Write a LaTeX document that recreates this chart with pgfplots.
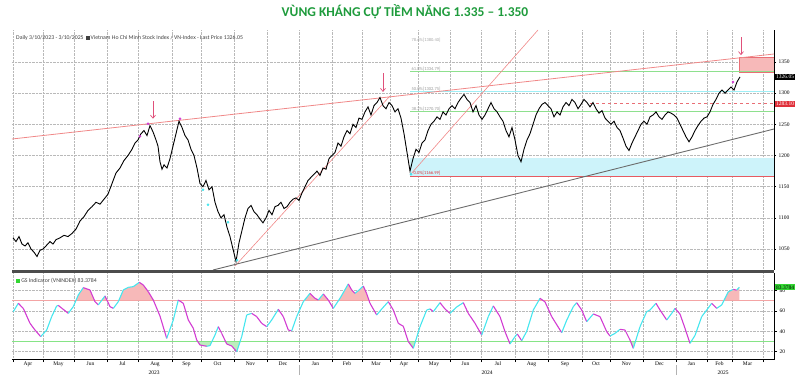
\documentclass[border=0pt]{standalone}
\usepackage{fontspec}
\setmainfont{Liberation Serif}
\newfontfamily\titlefont{Carlito}
\newfontfamily\calfont{Carlito}
\usepackage{pgfplots}
\usepackage{pgfplotstable}
\pgfplotsset{compat=1.18}
\usetikzlibrary{arrows.meta}
\definecolor{ttl}{HTML}{1E9B3C}
\definecolor{gscyan}{HTML}{45E6EE}
\definecolor{gsmag}{HTML}{D23CD2}
\definecolor{trend}{HTML}{F08888}
\definecolor{fibg}{HTML}{8EE08E}
\definecolor{fibc}{HTML}{9EEFF6}
\definecolor{band}{HTML}{CDF3FA}
\definecolor{arrowc}{HTML}{E0507A}
\definecolor{redfill}{HTML}{F7B9B9}
\definecolor{greenfill}{HTML}{BDEDBD}
\definecolor{lvl70}{HTML}{F4A4A4}
\definecolor{lvl30}{HTML}{86E486}
\definecolor{boxgreen}{HTML}{33D633}
\definecolor{boxred}{HTML}{E0303A}

\pgfplotstableread{
x y
13 1068
16 1062
19 1070
22 1058
25 1055
28 1060
31 1050
34 1045
37 1038
40 1048
43 1050
46 1055
50 1062
53 1058
56 1065
60 1068
64 1072
68 1070
72 1075
76 1082
80 1095
84 1102
88 1112
92 1118
96 1125
100 1122
104 1130
108 1138
112 1155
116 1172
120 1180
124 1192
128 1200
132 1210
135 1220
138 1225
141 1235
144 1240
147 1232
150 1248
153 1238
156 1225
158 1215
160 1190
162 1178
164 1185
167 1180
170 1195
173 1215
176 1235
179 1255
182 1245
185 1232
188 1225
191 1210
194 1200
197 1180
200 1155
203 1150
206 1160
209 1145
212 1150
215 1125
218 1110
221 1100
224 1105
227 1085
230 1070
233 1050
236 1030
239 1060
242 1080
245 1100
248 1115
251 1120
254 1110
257 1105
260 1098
263 1092
266 1100
269 1112
272 1105
275 1118
278 1120
281 1125
284 1115
287 1118
290 1125
293 1130
296 1132
299 1128
302 1140
305 1150
308 1160
311 1165
314 1170
317 1175
320 1168
323 1180
326 1178
329 1195
332 1200
335 1205
338 1220
341 1215
344 1230
347 1240
350 1235
353 1250
356 1245
359 1260
362 1258
365 1270
368 1278
371 1265
374 1280
377 1285
380 1293
383 1280
386 1275
389 1285
392 1280
395 1270
398 1275
401 1260
404 1235
407 1205
410 1175
413 1195
416 1210
419 1205
422 1220
425 1225
428 1240
431 1250
434 1255
437 1262
440 1258
443 1270
446 1265
449 1275
452 1280
455 1275
458 1285
461 1292
464 1298
467 1290
470 1285
473 1270
476 1280
479 1265
482 1258
485 1265
488 1275
491 1285
494 1275
497 1270
500 1262
503 1255
506 1240
509 1230
512 1245
515 1225
518 1200
521 1190
524 1210
527 1225
530 1235
533 1250
536 1265
539 1275
542 1282
545 1285
548 1280
551 1275
554 1262
557 1270
560 1265
563 1278
566 1285
569 1280
572 1290
575 1285
578 1275
581 1282
584 1290
587 1285
590 1278
593 1285
596 1275
599 1268
602 1272
605 1260
608 1255
611 1250
614 1255
617 1245
620 1240
623 1228
626 1215
629 1208
632 1220
635 1230
638 1240
641 1250
644 1255
647 1250
650 1262
653 1265
656 1270
659 1262
662 1258
665 1265
668 1270
671 1268
674 1265
677 1260
680 1250
683 1240
686 1230
689 1222
692 1230
695 1240
698 1248
701 1255
704 1260
707 1262
710 1270
713 1282
716 1290
719 1300
722 1305
725 1300
728 1305
731 1310
734 1305
737 1318
740 1326.05
}\price

\pgfplotstableread{
x y c
13.3 59.4 1
18.3 67.6 1
18.3 67.6 0
23.3 62.6 0
30 47.9 0
35 41.3 0
40.7 34.8 0
40.7 34.8 1
46.7 41.3 1
51.7 54.5 1
56.7 65 1
58.3 65.5 1
58.3 65.5 0
68.3 57.7 0
68.3 57.7 1
73.3 64.3 1
78.3 75.8 1
83.3 83 1
83.3 83 0
90 80.7 0
95 69.2 0
98.3 66 0
98.3 66 1
105 74.8 1
105 74.8 0
110 64.3 0
113.3 62.6 0
113.3 62.6 1
118.3 69.2 1
123.3 80.7 1
128.3 83.3 1
133.3 84 1
139.3 88.2 1
139.3 88.2 0
143.3 85.6 0
148.3 79 0
153.3 70.8 0
160 55 0
166.7 33.1 0
166.7 33.1 1
173.3 51.2 1
178.3 70.8 1
178.3 70.8 0
183.3 67.6 0
188.3 51.2 0
193.3 43 0
196.7 31.5 0
200 26.6 0
206.7 25.3 0
206.7 25.3 1
210 26 1
215 36.4 1
218.3 44.6 1
218.3 44.6 0
221.7 38 0
226.7 27.6 0
231.7 25.6 0
236.7 20 0
236.7 20 1
241.7 34.8 1
246.7 56.1 1
251.7 57.7 1
251.7 57.7 0
256.7 54.5 0
261.7 47.9 0
266.7 44.6 0
266.7 44.6 1
271.7 51.2 1
278.3 61.7 1
278.3 61.7 0
283.3 54.5 0
288.3 41.3 0
291.7 40.5 0
291.7 40.5 1
296.7 54.5 1
303.3 69.2 1
310 77.4 1
310 77.4 0
315 72.5 0
318.3 70.8 0
318.3 70.8 1
323.3 76.8 1
323.3 76.8 0
328.3 70.8 0
333.3 62.6 0
333.3 62.6 1
340 72.5 1
348.3 86.6 1
348.3 86.6 0
351.7 80.7 0
355 77.4 0
355 77.4 1
358.3 80 1
363.3 84.6 1
363.3 84.6 0
366.7 77 0
370 67.6 0
376.7 56.1 0
376.7 56.1 1
381.7 62 1
388.3 69.2 1
388.3 69.2 0
393.3 61 0
398.3 47.9 0
403.3 45 0
408.3 29.9 0
413.3 23.3 0
413.3 23.3 1
420 44.6 1
426.7 61 1
430 62 1
430 62 0
433.3 59.4 0
433.3 59.4 1
440 68.2 1
440 68.2 0
445 62 0
450 57.7 0
450 57.7 1
456.7 64 1
463.3 68.2 1
463.3 68.2 0
468.3 57.7 0
475 47.9 0
481.7 36.4 0
481.7 36.4 1
488.3 54.5 1
493.3 65 1
493.3 65 0
500 54.5 0
505 39.7 0
510 27.6 0
510 27.6 1
515 34.8 1
517.3 37.4 1
517.3 37.4 0
521.7 30.8 0
521.7 30.8 1
526.7 40 1
533.3 61 1
540 72.5 1
540 72.5 0
545 69 0
551.7 54.5 0
561.7 38.7 0
561.7 38.7 1
566.7 51 1
573.3 64.3 1
576.7 68.2 1
576.7 68.2 0
581.7 61 0
586.7 49.5 0
586.7 49.5 1
593.3 57.1 1
593.3 57.1 0
600 54.5 0
606.7 39.7 0
610 35.4 0
610 35.4 1
615 38 1
620 42 1
620 42 0
625 41.3 0
630 31.5 0
633.3 23.3 0
633.3 23.3 1
640 44.6 1
646.7 59.4 1
650 61 1
656 67.6 1
656 67.6 0
660 61 0
666.7 51.2 0
666.7 51.2 1
671.7 57.7 1
675 62.6 1
675 62.6 0
680 57 0
685 43 0
690 28.2 0
690 28.2 1
695 36 1
701.7 54.5 1
706.7 61 1
711.7 67.6 1
711.7 67.6 0
716.7 62.6 0
716.7 62.6 1
721.7 66 1
728.3 79 1
733.3 81.3 1
733.3 81.3 0
736.7 80.5 0
736.7 80.5 1
739.3 83.4 1
}\gs

\def\monthticks{13,43,74,107,138,172,201,234,267,299,332,362,390,418,450,481,515,548,582,610,643,676,707,732,763}
\def\small{\fontsize{5.5}{6}\selectfont}

\begin{document}
\begin{tikzpicture}[x=1pt,y=1pt]
\useasboundingbox (0,0) rectangle (800,375);

\node[font=\titlefont\bfseries\fontsize{13.5}{15}\selectfont, text=ttl] at (405,363) {VÙNG KHÁNG CỰ TIỀM NĂNG 1.335 – 1.350};

% ---------- price panel ----------
\begin{axis}[
  at={(12pt,105pt)}, anchor=south west, scale only axis,
  width=762pt, height=240pt,
  xmin=12, xmax=774, ymin=1016.4, ymax=1401.3,
  axis line style={draw=none},
  xtick/.expanded=\monthticks, xticklabels={}, xtick style={draw=none},
  ytick={1050,1100,...,1350},
  yticklabel pos=right, ytick pos=right, tick align=outside,
  major tick length=2pt, ytick style={black, line width=0.4pt},
  yticklabel style={font=\small, xshift=-1pt},
  /pgf/number format/1000 sep={}, /pgf/number format/assume math mode=true,
  grid=major, major grid style={densely dotted, gray!55, line width=0.4pt},
  clip mode=individual,
]
% support band and Fibonacci levels
\addplot[fill=band, draw=none] coordinates {(410,1167) (774,1167) (774,1196) (410,1196)} -- cycle;
\addplot[fill=redfill, draw=boxred!70, line width=0.5pt] coordinates {(739,1334) (774,1334) (774,1357) (739,1357)} -- cycle;
\addplot[fibg, line width=0.8pt] coordinates {(410,1270.7) (774,1270.7)};
\addplot[fibc, line width=0.8pt] coordinates {(410,1302.75) (774,1302.75)};
\addplot[fibg, line width=0.8pt] coordinates {(410,1334.8) (774,1334.8)};
\addplot[boxred!80, line width=0.8pt] coordinates {(410,1166.99) (774,1166.99)};
\addplot[boxred!70, dashed, line width=0.6pt] coordinates {(590,1283.1) (774,1283.1)};
% trendlines
\addplot[trend, line width=0.8pt] coordinates {(12,1226.5) (774,1362.8)};
\addplot[trend, line width=0.6pt] coordinates {(235,1022.8) (390,1295.5)};
\addplot[trend, line width=0.6pt] coordinates {(410,1168.7) (538,1401.3)};
\addplot[gray!85!black, line width=0.9pt] coordinates {(213,1016.4) (774,1242.5)};
% price
\addplot[black, line width=0.9pt] table[x=x,y=y] {\price};
% signal dots
\addplot[only marks, mark=*, mark size=1.1pt, color=gsmag] coordinates {(140,1231) (148,1251) (180,1259) (733,1318)};
\addplot[only marks, mark=*, mark size=1.1pt, color=gscyan] coordinates {(203,1145) (208,1121) (228,1093) (237,1032) (411,1170)};
% arrows
\draw[arrowc, line width=0.7pt, -{Straight Barb[length=3pt,width=5pt]}] (axis cs:153,1287) -- (axis cs:153,1259);
\draw[arrowc, line width=0.7pt, -{Straight Barb[length=3pt,width=5pt]}] (axis cs:383,1332) -- (axis cs:383,1302);
\draw[arrowc, line width=0.7pt, -{Straight Barb[length=3pt,width=5pt]}] (axis cs:741,1390) -- (axis cs:741,1361);
% level labels
\node[anchor=south west, inner sep=0.5pt, font=\calfont\fontsize{4.5}{5}\selectfont, text=gray!70] at (axis cs:411,1380.4) {78.6\%[1380.40]};
\node[anchor=south west, inner sep=0.5pt, font=\calfont\fontsize{4.5}{5}\selectfont, text=gray!80] at (axis cs:411,1334.8) {61.8\%[1334.79]};
\node[anchor=south west, inner sep=0.5pt, font=\calfont\fontsize{4.5}{5}\selectfont, text=gray!80] at (axis cs:411,1302.75) {50.0\%[1302.75]};
\node[anchor=south west, inner sep=0.5pt, font=\calfont\fontsize{4.5}{5}\selectfont, text=gray!80] at (axis cs:411,1270.7) {38.2\%[1270.70]};
\node[anchor=south west, inner sep=0.5pt, font=\calfont\fontsize{4.5}{5}\selectfont, text=boxred] at (axis cs:413,1167) {0.0\%[1166.99]};
% axis line and value boxes
\draw[black, line width=0.6pt] (rel axis cs:1,0) -- (rel axis cs:1,1);
\node[anchor=west, fill=black, text=white, inner sep=1pt, font=\small] at (axis cs:775,1326.05) {1326.05};
\node[anchor=west, fill=boxred, text=white, inner sep=1pt, font=\small] at (axis cs:775,1283.1) {1283.10};
\node[anchor=west, inner sep=0pt, font=\calfont\fontsize{5.8}{6}\selectfont, text=black!75] at (axis cs:16,1388) {Daily 3/10/2023 - 3/10/2025 \ \rule{3.5pt}{3.5pt}\,Vietnam Ho Chi Minh Stock Index / VN-Index - Last Price 1326.05};
\end{axis}

% panel separator
\draw[black!70, line width=2.6pt] (12,103.3) -- (774,103.3);

% ---------- GS indicator panel ----------
\begin{axis}[
  at={(12pt,16pt)}, anchor=south west, scale only axis,
  width=762pt, height=86pt,
  xmin=12, xmax=774, ymin=12.8, ymax=97.4,
  axis line style={draw=none},
  xtick/.expanded=\monthticks, xticklabels={},
  xtick pos=bottom, ytick pos=right, tick align=outside,
  major tick length=3pt, tick style={black, line width=0.4pt},
  extra x ticks={28,58.5,90.5,122.5,155,186.5,217.5,250.5,283,315.5,347,376,404,434,465.5,498,531.5,565,596,626.5,659.5,691.5,719.5,747.5},
  extra x tick labels={Apr,May,Jun,Jul,Aug,Sep,Oct,Nov,Dec,Jan,Feb,Mar,Apr,May,Jun,Jul,Aug,Sep,Oct,Nov,Dec,Jan,Feb,Mar},
  extra x tick style={grid=none, major tick length=0pt, tick label style={font=\small, yshift=1pt}},
  ytick={20,40,60,80}, yticklabel pos=right,
  yticklabel style={font=\small, xshift=-1pt},
  /pgf/number format/assume math mode=true,
  grid=major, major grid style={densely dotted, gray!55, line width=0.4pt},
  clip mode=individual,
]
% fills above 70 and below 30
\addplot[fill=redfill, draw=none] coordinates {(75.8,70) (78.3,75.8) (83.3,83) (90,80.7) (94.7,70)} -- cycle;
\addplot[fill=redfill, draw=none] coordinates {(101.3,70) (105,74.8) (107.3,70)} -- cycle;
\addplot[fill=redfill, draw=none] coordinates {(118.7,70) (123.3,80.7) (128.3,83.3) (133.3,84) (139.3,88.2) (143.3,85.6) (148.3,79) (153.3,70.8) (153.6,70)} -- cycle;
\addplot[fill=redfill, draw=none] coordinates {(304,70) (310,77.4) (315,72.5) (318.3,70.8) (323.3,76.8) (328.3,70.8) (328.8,70)} -- cycle;
\addplot[fill=redfill, draw=none] coordinates {(338.3,70) (340,72.5) (348.3,86.6) (351.7,80.7) (355,77.4) (358.3,80) (363.3,84.6) (366.7,77) (369.2,70)} -- cycle;
\addplot[fill=redfill, draw=none] coordinates {(538.5,70) (540,72.5) (543.6,70)} -- cycle;
\addplot[fill=redfill, draw=none] coordinates {(723.7,70) (728.3,79) (733.3,81.3) (736.7,80.5) (739.3,83.4) (739.3,70)} -- cycle;
\addplot[fill=greenfill, draw=none] coordinates {(197.7,30) (200,26.6) (206.7,25.3) (210,26) (211.9,30)} -- cycle;
\addplot[fill=greenfill, draw=none] coordinates {(225.5,30) (226.7,27.6) (231.7,25.6) (236.7,20) (240.1,30)} -- cycle;
\addplot[fill=greenfill, draw=none] coordinates {(408.2,30) (413.3,23.3) (415.4,30)} -- cycle;
\addplot[fill=greenfill, draw=none] coordinates {(509,30) (510,27.6) (511.7,30)} -- cycle;
\addplot[fill=greenfill, draw=none] coordinates {(630.6,30) (633.3,23.3) (635.4,30)} -- cycle;
\addplot[fill=greenfill, draw=none] coordinates {(689.4,30) (690,28.2) (691.2,30)} -- cycle;
% threshold lines
\addplot[lvl70, line width=1pt] coordinates {(12,70) (774,70)};
\addplot[lvl30, line width=1pt] coordinates {(12,30) (774,30)};
% indicator
\addplot[mesh, shader=flat mean, point meta=explicit, point meta min=0, point meta max=1,
  colormap={gsmap}{color(0)=(gsmag) color(1)=(gscyan)}, line width=1.1pt]
  table[x=x, y=y, meta=c] {\gs};
\draw[black, line width=0.6pt] (rel axis cs:0,0) -- (rel axis cs:1,0) -- (rel axis cs:1,1);
\node[anchor=west, fill=boxgreen, text=black, inner sep=1pt, font=\small] at (axis cs:775,83.38) {83.3784};
\node[anchor=west, inner sep=0pt, font=\calfont\fontsize{5.8}{6}\selectfont, text=black!75] at (axis cs:16,89.5) {\textcolor{boxgreen}{\rule{3.8pt}{3.8pt}}\ GS Indicator (VNINDEX) 83.3784};
\end{axis}

% year labels and year separators
\node[font=\small] at (154,2.5) {2023};
\node[font=\small] at (487,2.5) {2024};
\node[font=\small] at (723,2.5) {2025};
\draw[gray!60, line width=0.4pt] (299,0) -- (299,10);
\draw[gray!60, line width=0.4pt] (676,0) -- (676,10);
\end{tikzpicture}
\end{document}
